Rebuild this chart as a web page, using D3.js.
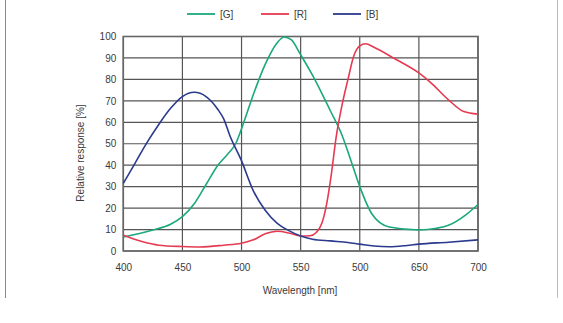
<!DOCTYPE html>
<html><head><meta charset="utf-8">
<script src="https://cdn.jsdelivr.net/npm/d3@7"></script>
<style>body{margin:0;background:#fff}svg{display:block}text{font-family:"Liberation Sans",Arial,sans-serif}</style>
</head><body>
<svg id="c" width="563" height="323"></svg>
<script>
const xTickValues = [400,450,500,550,600,650,700];
const xTickLabels = ["400","450","500","550","500","650","700"];
const yTickValues = [0,10,20,30,40,50,60,70,80,90,100];
const seriesNames = ["[G]","[R]","[B]"];
const seriesColors = ["#1aa87c","#e63a51","#2b3a8f"];
const greenData = [[400,6.5],[425,9.8],[440,12.5],[450,16],[460,22],[470,31],[480,40],[488,45],[495,50],[500,57],[510,73],[520,87],[530,97],[536,99.8],[542,98.5],[550,91.5],[560,82],[575,65.5],[585,54],[592,43],[600,30],[610,17.5],[625,11.2],[650,9.8],[665,10.6],[675,12],[690,17],[700,21.7]];
const redData = [[400,7.3],[415,4.5],[430,2.7],[450,2.1],[465,1.9],[485,2.7],[500,3.6],[510,5.2],[520,8],[530,9.2],[540,8.4],[550,7],[558,7.1],[563,8.5],[568,13],[572,22],[576,36],[580,53],[585,68],[590,80],[595,91],[600,95.6],[605,96.6],[612,95],[630,89.5],[650,83],[660,78.5],[675,70.5],[688,65],[700,63.8]];
const blueData = [[400,31.5],[410,41],[420,50.5],[430,59],[440,66.5],[450,72],[460,74],[470,72],[480,66],[485,61.5],[490,54],[500,42],[510,28],[520,19],[530,13],[540,9.5],[550,7],[560,5.5],[575,4.7],[590,4],[600,3.2],[612,2.3],[625,2],[640,2.6],[650,3.2],[675,4.1],[700,5.2]];

const svg = d3.select("#c");
const x = d3.scaleLinear().domain([400,700]).range([123.3,478]);
const y = d3.scaleLinear().domain([0,100]).range([251,36.5]);

svg.append("line").attr("x1",5.5).attr("x2",5.5).attr("y1",0).attr("y2",298).attr("stroke","#888").attr("stroke-width",1);
svg.append("line").attr("x1",557.5).attr("x2",557.5).attr("y1",0).attr("y2",298).attr("stroke","#bbb").attr("stroke-width",1);

const g = svg.append("g");
g.selectAll(".vg").data(xTickValues).join("line")
  .attr("x1",d=>x(d)).attr("x2",d=>x(d)).attr("y1",y(0)).attr("y2",y(100))
  .attr("stroke","#555").attr("stroke-width",1.2);
g.selectAll(".hg").data(yTickValues).join("line")
  .attr("x1",x(400)).attr("x2",x(700)).attr("y1",d=>y(d)).attr("y2",d=>y(d))
  .attr("stroke","#555").attr("stroke-width",1.2);
g.append("rect").attr("x",x(400)).attr("y",y(100)).attr("width",x(700)-x(400)).attr("height",y(0)-y(100))
  .attr("fill","none").attr("stroke","#666").attr("stroke-width",1.6);

const xAxis = d3.axisBottom(x).tickValues(xTickValues).tickSize(0).tickPadding(0)
  .tickFormat((d,i)=>xTickLabels[i]);
const xa = svg.append("g").attr("transform",`translate(0,${y(0)+13})`).call(xAxis);
xa.select(".domain").remove();
xa.selectAll("text").attr("font-size",10).attr("fill","#3a3a3a").attr("font-family","Liberation Sans, Arial, sans-serif");

const yAxis = d3.axisLeft(y).tickValues(yTickValues).tickSize(0).tickPadding(0);
const ya = svg.append("g").attr("transform",`translate(${x(400)-7},0)`).call(yAxis);
ya.select(".domain").remove();
ya.selectAll("text").attr("font-size",10).attr("fill","#3a3a3a").attr("font-family","Liberation Sans, Arial, sans-serif");

svg.append("text").attr("x",300).attr("y",294).attr("text-anchor","middle")
  .attr("font-size",10).attr("fill","#3a3a3a").text("Wavelength [nm]");
svg.append("text").attr("transform","translate(84,153) rotate(-90)").attr("text-anchor","middle")
  .attr("font-size",10).attr("fill","#3a3a3a").text("Relative response [%]");

const line = d3.line().x(d=>x(d[0])).y(d=>y(d[1])).curve(d3.curveMonotoneX);
[greenData, redData, blueData].forEach((data,i)=>{
  svg.append("path").attr("d",line(data)).attr("fill","none")
    .attr("stroke",seriesColors[i]).attr("stroke-width",1.6);
});

const legX = [187,261,333];
seriesNames.forEach((n,i)=>{
  svg.append("line").attr("x1",legX[i]).attr("x2",legX[i]+28).attr("y1",14).attr("y2",14)
    .attr("stroke",seriesColors[i]).attr("stroke-width",1.8);
  svg.append("text").attr("x",legX[i]+33).attr("y",17.5).attr("font-size",10).attr("fill","#3a3a3a").text(n);
});
</script>
</body></html>
